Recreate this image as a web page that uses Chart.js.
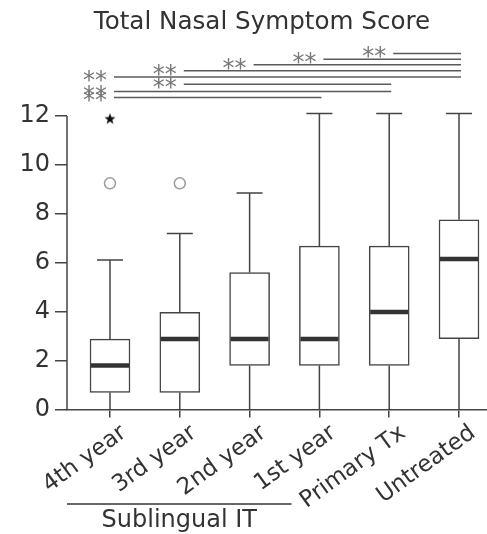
<!DOCTYPE html>
<html><head><meta charset="utf-8">
<script src="https://cdn.jsdelivr.net/npm/chart.js@4"></script>
<style>html,body{margin:0;padding:0;background:#fff}#wrap{width:487px;height:534px;position:relative}</style>
</head><body><div id="wrap"><canvas id="c" width="487" height="534"></canvas></div>
<script>
const categories = ['4th year','3rd year','2nd year','1st year','Primary Tx','Untreated'];
const whiskerLow = [0,0,0,0,0,0];
const q1 = [0.7,0.7,1.8,1.8,1.8,2.9];
const median = [1.8,2.88,2.88,2.88,3.99,6.15];
const q3 = [2.88,3.97,5.6,6.68,6.68,7.76];
const whiskerHigh = [6.11,7.2,8.85,12.1,12.1,12.1];
const outlierCat = [0,1];
const outlierVal = [9.25,9.25];
const extremeCat = [0];
const extremeVal = [11.9];
const yTicks = [0,2,4,6,8,10,12];
const sigFrom = [4,3,2,1,0,1,0,0];
const sigTo = [5,5,5,5,5,4,4,3];
const sigLevel = [14.56,14.32,14.1,13.85,13.6,13.3,13.0,12.76];
const sigLabel = ['**','**','**','**','**','**','**','**'];
const titleText = 'Total Nasal Symptom Score';
const groupLabel = 'Sublingual IT';
const groupEnd = 2.6;

const FONT = 'DejaVu Sans';

const starCanvas = document.createElement('canvas');
starCanvas.width = 12; starCanvas.height = 12;
(function(){
  const g = starCanvas.getContext('2d');
  g.fillStyle = '#111';
  g.beginPath();
  for (let k = 0; k < 10; k++) {
    const r = k % 2 === 0 ? 5.8 : 2.4;
    const a = -Math.PI/2 + k*Math.PI/5;
    const px = 6 + r*Math.cos(a), py = 6.5 + r*Math.sin(a);
    k === 0 ? g.moveTo(px,py) : g.lineTo(px,py);
  }
  g.closePath(); g.fill();
})();

const extras = {
  id: 'extras',
  afterDatasetsDraw(chart) {
    const {ctx, scales:{x, y}, chartArea} = chart;
    ctx.save();
    ctx.strokeStyle = '#444'; ctx.lineWidth = 1.5;
    ctx.beginPath();
    ctx.moveTo(chartArea.left, y.getPixelForValue(yTicks[yTicks.length-1]));
    ctx.lineTo(chartArea.left, y.getPixelForValue(0));
    ctx.stroke();
    categories.forEach((c, i) => {
      const px = x.getPixelForValue(i);
      ctx.strokeStyle = '#444'; ctx.lineWidth = 1.5;
      ctx.beginPath();
      ctx.moveTo(px, y.getPixelForValue(q3[i])); ctx.lineTo(px, y.getPixelForValue(whiskerHigh[i]));
      ctx.moveTo(px, y.getPixelForValue(q1[i])); ctx.lineTo(px, y.getPixelForValue(whiskerLow[i]));
      const hy = y.getPixelForValue(whiskerHigh[i]);
      ctx.moveTo(px - 13, hy); ctx.lineTo(px + 13, hy);
      ctx.stroke();
      ctx.strokeStyle = '#333'; ctx.lineWidth = 4.5;
      const my = y.getPixelForValue(median[i]);
      ctx.beginPath(); ctx.moveTo(px - 19, my); ctx.lineTo(px + 19, my); ctx.stroke();
    });
    ctx.font = '24px "' + FONT + '"';
    ctx.textAlign = 'right';
    ctx.textBaseline = 'alphabetic';
    const m = ctx.measureText('**');
    const mid = (m.actualBoundingBoxAscent - m.actualBoundingBoxDescent) / 2;
    sigFrom.forEach((f, k) => {
      const ly = y.getPixelForValue(sigLevel[k]);
      const x0 = x.getPixelForValue(f) + 4;
      const x1 = x.getPixelForValue(sigTo[k]) + 2;
      ctx.strokeStyle = '#5a5a5a'; ctx.lineWidth = 1.5;
      ctx.beginPath(); ctx.moveTo(x0, ly); ctx.lineTo(x1, ly); ctx.stroke();
      ctx.fillStyle = '#777';
      ctx.fillText(sigLabel[k], x0 - 7, ly + mid - 1);
    });
    ctx.restore();
  },
  afterDraw(chart) {
    const {ctx, scales:{x}, chartArea} = chart;
    ctx.save();
    ctx.fillStyle = '#333';
    ctx.font = '24.6px "' + FONT + '"';
    ctx.textAlign = 'center'; ctx.textBaseline = 'middle';
    ctx.fillText(titleText, 262, 23);
    ctx.font = '24px "' + FONT + '"';
    const gx1 = x.getPixelForValue(groupEnd);
    ctx.strokeStyle = '#333'; ctx.lineWidth = 1.5;
    ctx.beginPath(); ctx.moveTo(chartArea.left, 504); ctx.lineTo(gx1, 504); ctx.stroke();
    ctx.fillText(groupLabel, (chartArea.left + gx1) / 2, 521);
    ctx.restore();
  }
};

new Chart(document.getElementById('c'), {
  type: 'bar',
  data: {
    datasets: [
      {
        type: 'bar',
        data: categories.map((c, i) => ({x: i, y: [q1[i], q3[i]]})),
        backgroundColor: '#fff',
        borderColor: '#444',
        borderWidth: 1.5,
        borderSkipped: false,
        barThickness: 40,
        order: 2
      },
      {
        type: 'scatter',
        data: outlierCat.map((c, i) => ({x: c, y: outlierVal[i]})),
        pointStyle: 'circle',
        radius: 5.5,
        borderColor: '#9a9a9a',
        backgroundColor: '#fff',
        borderWidth: 1.5,
        order: 1
      },
      {
        type: 'scatter',
        data: extremeCat.map((c, i) => ({x: c, y: extremeVal[i]})),
        pointStyle: starCanvas,
        order: 1
      }
    ]
  },
  options: {
    responsive: false,
    animation: false,
    devicePixelRatio: 1,
    layout: {autoPadding: false, padding: {top: 47.6, right: 0, left: 0, bottom: 0}},
    plugins: {legend: {display: false}, tooltip: {enabled: false}, title: {display: false}},
    scales: {
      x: {
        type: 'linear',
        offset: false,
        min: -0.616, max: 5.401,
        afterBuildTicks: s => { s.ticks = categories.map((c, i) => ({value: i})); },
        afterFit: s => { s.height = 124.5; s.paddingRight = 0; },
        grid: {offset: false, drawOnChartArea: false, tickLength: 8, color: '#444', lineWidth: 1.5},
        border: {display: true, color: '#444', width: 1.5},
        ticks: {
          autoSkip: false, maxRotation: 36, minRotation: 36, labelOffset: 14, padding: 2,
          color: '#333', font: {family: FONT, size: 23},
          callback: (v, i) => categories[i]
        }
      },
      y: {
        type: 'linear',
        min: 0, max: 14.8,
        afterBuildTicks: s => { s.ticks = yTicks.map(v => ({value: v})); },
        afterFit: s => { s.width = 67; },
        grid: {drawOnChartArea: false, tickLength: 12, color: '#444', lineWidth: 1.5},
        border: {display: false},
        ticks: {color: '#333', font: {family: FONT, size: 24}, padding: 5}
      }
    }
  },
  plugins: [extras]
});
</script>
</body></html>
